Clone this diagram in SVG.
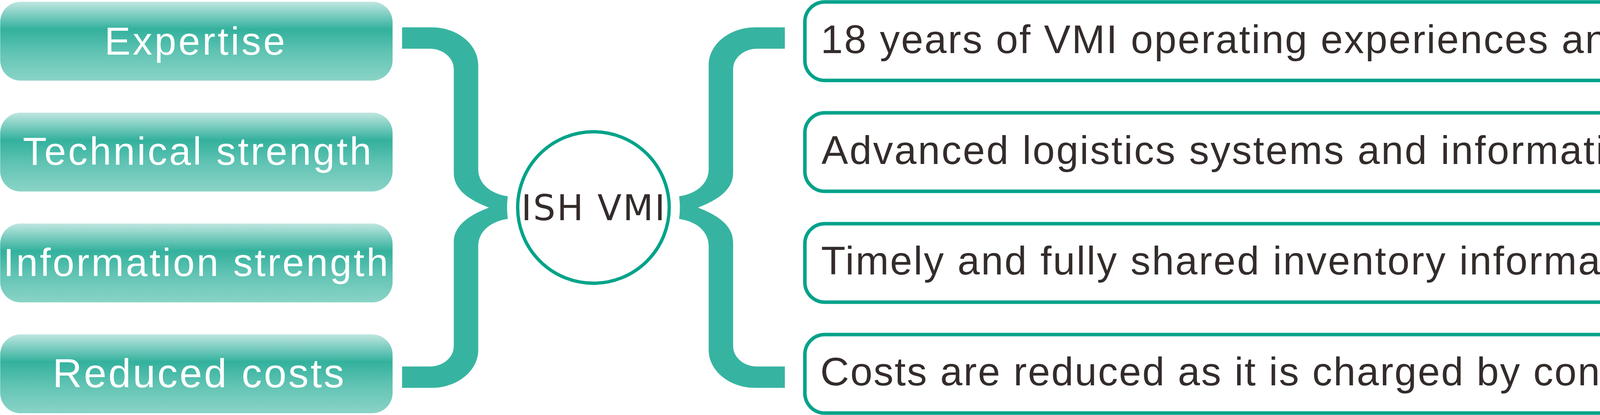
<svg xmlns="http://www.w3.org/2000/svg" width="5532" height="1063" viewBox="0 0 5532 1063">
  <defs>
    <linearGradient id="tealGrad" x1="0" y1="0" x2="0" y2="1">
      <stop offset="0" stop-color="#bfe6e0"/>
      <stop offset="0.35" stop-color="#33b19d"/>
      <stop offset="0.65" stop-color="#62c4b4"/>
      <stop offset="1" stop-color="#8ad4c7"/>
    </linearGradient>
    <path id="brace" d="M1029.3,70 L1105,70 C1170.7,70 1224.3,113.5 1224.3,167 L1224.3,433 C1224.3,472 1258,497 1300,502.7 Q1296,531.7 1300,560.7 C1258,566.4 1224.3,591.4 1224.3,630.4 L1224.3,896.4 C1224.3,949.9 1170.7,993.4 1105,993.4 L1029.3,993.4 L1029.3,938.7 L1100,938.7 C1134.2,938.7 1161.7,915.4 1161.7,886.4 L1161.7,620.4 C1161.7,573 1210,548 1251.7,531.7 C1210,515.4 1161.7,490.4 1161.7,443 L1161.7,177 C1161.7,148.3 1134.2,124.7 1100,124.7 L1029.3,124.7 Z"/>
  </defs>
  <style>
    .lbox { fill: url(#tealGrad); }
    .ltxt { font-family: "Liberation Sans", Arial, sans-serif; font-size: 100px; fill: #ffffff; }
    .rbox { fill: #ffffff; stroke: #00a28a; stroke-width: 9; }
    .rtxt { font-family: "Liberation Sans", Arial, sans-serif; font-size: 102px; fill: #332c2b; }
    .brace { fill: #37b4a1; }
    .hub { fill: #ffffff; stroke: #00a389; stroke-width: 8.5; }
    .hubtxt { font-family: "DejaVu Sans", sans-serif; font-size: 90px; fill: #332c2b; }
  </style>

  <g id="connectors">
    <use href="#brace" class="brace"/>
    <use href="#brace" class="brace" transform="translate(3038.5,0) scale(-1,1)"/>
  </g>

  <g id="node-expertise">
    <rect class="lbox" x="0.5" y="4.5" width="1004.5" height="202" rx="52" ry="52"/>
    <text class="ltxt" x="267.5" y="139.5" textLength="462" lengthAdjust="spacing">Expertise</text>
  </g>
  <g id="node-technical">
    <rect class="lbox" x="0.5" y="288.5" width="1004.5" height="202" rx="52" ry="52"/>
    <text class="ltxt" x="58.5" y="422.4" textLength="892" lengthAdjust="spacing">Technical strength</text>
  </g>
  <g id="node-information">
    <rect class="lbox" x="0.5" y="572.5" width="1004.5" height="202" rx="52" ry="52"/>
    <text class="ltxt" x="8.5" y="707.2" textLength="985" lengthAdjust="spacing">Information strength</text>
  </g>
  <g id="node-costs">
    <rect class="lbox" x="0.5" y="856.5" width="1004.5" height="202" rx="52" ry="52"/>
    <text class="ltxt" x="134.7" y="991.5" style="font-size:104px" textLength="746" lengthAdjust="spacing">Reduced costs</text>
  </g>

  <g id="node-hub">
    <circle class="hub" cx="1519.2" cy="531.5" r="194"/>
    <text class="hubtxt" x="1334.6" y="564.3" textLength="368" lengthAdjust="spacing">ISH VMI</text>
  </g>

  <g id="node-r1">
    <rect class="rbox" x="2060.5" y="5" width="3465" height="201" rx="51" ry="51"/>
    <text class="rtxt" x="2101" y="136" textLength="3388" lengthAdjust="spacing">18 years of VMI operating experiences and professional logistics team</text>
  </g>
  <g id="node-r2">
    <rect class="rbox" x="2060.5" y="289" width="3465" height="201" rx="51" ry="51"/>
    <text class="rtxt" x="2103" y="419.5" textLength="2687" lengthAdjust="spacing">Advanced logistics systems and information technology</text>
  </g>
  <g id="node-r3">
    <rect class="rbox" x="2060.5" y="573" width="3465" height="201" rx="51" ry="51"/>
    <text class="rtxt" x="2102" y="702.5" textLength="2173" lengthAdjust="spacing">Timely and fully shared inventory information</text>
  </g>
  <g id="node-r4">
    <rect class="rbox" x="2060.5" y="857" width="3465" height="201" rx="51" ry="51"/>
    <text class="rtxt" x="2100" y="986.5" textLength="3397" lengthAdjust="spacing">Costs are reduced as it is charged by consumptionthru economic scale</text>
  </g>
</svg>
